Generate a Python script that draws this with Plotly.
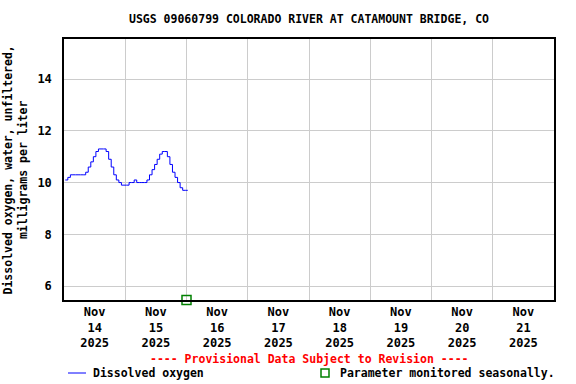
import plotly.graph_objects as go
import pandas as pd

title = "USGS 09060799 COLORADO RIVER AT CATAMOUNT BRIDGE, CO"
y_title = "Dissolved oxygen, water, unfiltered,<br>milligrams per liter"
series_name = "Dissolved oxygen"
seasonal_label = "Parameter monitored seasonally."
provisional = "---- Provisional Data Subject to Revision ----"

# hourly readings starting 2025-11-14 00:30
start = "2025-11-14 00:30"
do_values = [10.1, 10.2, 10.3, 10.3, 10.3, 10.3, 10.3, 10.3, 10.4, 10.6,
             10.8, 11.0, 11.2, 11.3, 11.3, 11.3, 11.2, 10.9, 10.6, 10.3,
             10.1, 10.0, 9.9, 9.9, 9.9, 10.0, 10.0, 10.1, 10.0, 10.0,
             10.0, 10.0, 10.1, 10.3, 10.5, 10.7, 10.9, 11.1, 11.2, 11.2,
             11.0, 10.7, 10.4, 10.2, 10.0, 9.8, 9.7, 9.7, 9.7]
times = pd.date_range(start, periods=len(do_values), freq="h")

seasonal_x = ["2025-11-16 00:00"]
seasonal_y = [5.46]

tick_vals = pd.date_range("2025-11-14 12:00", periods=8, freq="D")
tick_text = [f"Nov<br>{d.day}<br>{d.year}" for d in tick_vals]
y_ticks = [6, 8, 10, 12, 14]

FONT = "DejaVu Sans Mono"

fig = go.Figure()
fig.add_trace(go.Scatter(x=times, y=do_values, mode="lines",
                         line=dict(color="#0000ff", width=1, shape="hv"),
                         name=series_name, showlegend=False))
fig.add_trace(go.Scatter(x=seasonal_x, y=seasonal_y, mode="markers",
                         marker=dict(symbol="square-open", size=9, color="#008000",
                                     line=dict(width=1.5, color="#008000")),
                         cliponaxis=False, showlegend=False, name=seasonal_label))

fig.update_layout(
    width=576, height=384,
    margin=dict(l=64, r=22, t=39, b=84),
    paper_bgcolor="white", plot_bgcolor="white",
    font=dict(family=FONT, size=12, color="black", weight="bold"),
    title=dict(text=title, x=0.5, xref="paper", xanchor="center", y=0.95, yanchor="middle",
               font=dict(family=FONT, size=11.5, weight="bold")),
    showlegend=False,
)
fig.update_xaxes(
    range=["2025-11-14 00:00", "2025-11-22 00:00"],
    tickmode="array", tickvals=tick_vals, ticktext=tick_text,
    showgrid=False, ticks="", ticklen=0,
    tickfont=dict(family=FONT, size=12, weight="bold"),
    showline=True, linecolor="black", linewidth=1.5, mirror=True,
    minor=dict(dtick=86400000, tick0="2025-11-14 00:00", showgrid=True,
               gridcolor="#cccccc", gridwidth=1, ticks=""),
    zeroline=False,
)
fig.update_yaxes(
    range=[5.46, 15.55], tickmode="array", tickvals=y_ticks,
    showgrid=True, gridcolor="#cccccc", gridwidth=1,
    ticks="", tickfont=dict(family=FONT, size=12, weight="bold"),
    showline=True, linecolor="black", linewidth=1.5, mirror=True,
    zeroline=False, ticklabelstandoff=8,
)

# y-axis title
fig.add_annotation(text=y_title, xref="paper", yref="paper", x=-0.098, y=0.5,
                   xanchor="center", yanchor="middle", textangle=-90, showarrow=False,
                   font=dict(family=FONT, size=11.5, weight="bold"))
# provisional note
fig.add_annotation(text=provisional, xref="paper", yref="paper",
                   x=(309 - 64) / 490, y=-(359 - 300) / 261,
                   xanchor="center", yanchor="middle", showarrow=False,
                   font=dict(family=FONT, size=11.5, color="red", weight="bold"))
# legend
fig.add_shape(type="line", xref="paper", yref="paper",
              x0=(68 - 64) / 490, x1=(86 - 64) / 490,
              y0=-(373 - 300) / 261, y1=-(373 - 300) / 261,
              line=dict(color="#0000ff", width=1))
fig.add_annotation(text=series_name, xref="paper", yref="paper",
                   x=(91 - 64) / 490, y=-(373 - 300) / 261,
                   xanchor="left", yanchor="middle", showarrow=False,
                   font=dict(family=FONT, size=11.5, weight="bold"))
fig.add_shape(type="rect", xref="paper", yref="paper",
              x0=(321 - 64) / 490, x1=(329 - 64) / 490,
              y0=-(369 - 300) / 261, y1=-(377 - 300) / 261,
              line=dict(color="#008000", width=1.5))
fig.add_annotation(text=seasonal_label, xref="paper", yref="paper",
                   x=(338 - 64) / 490, y=-(373 - 300) / 261,
                   xanchor="left", yanchor="middle", showarrow=False,
                   font=dict(family=FONT, size=11.5, weight="bold"))

fig.write_html("out.html", config={"displayModeBar": False},
               post_script="document.body.style.margin='0';document.body.style.padding='0';")
